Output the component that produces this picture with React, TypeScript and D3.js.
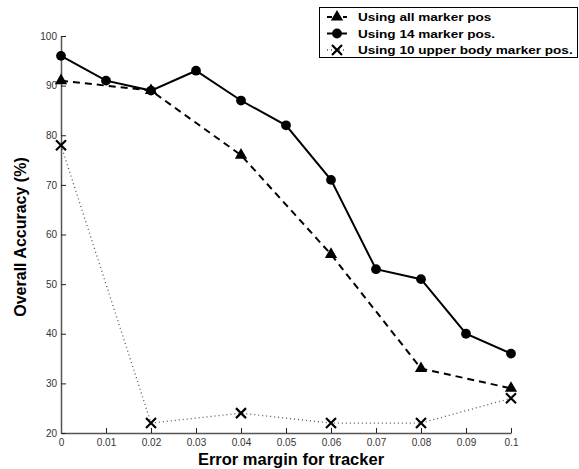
import React, { useEffect, useRef } from "react";
import * as d3 from "d3";

const xTicks = [0, 0.01, 0.02, 0.03, 0.04, 0.05, 0.06, 0.07, 0.08, 0.09, 0.1];
const yTicks = [20, 30, 40, 50, 60, 70, 80, 90, 100];

const allX = [0, 0.02, 0.04, 0.06, 0.08, 0.1];
const allY = [91, 89, 76, 56, 33, 29];

const fourteenX = [0, 0.01, 0.02, 0.03, 0.04, 0.05, 0.06, 0.07, 0.08, 0.09, 0.1];
const fourteenY = [96, 91, 89, 93, 87, 82, 71, 53, 51, 40, 36];

const upperX = [0, 0.02, 0.04, 0.06, 0.08, 0.1];
const upperY = [78, 22, 24, 22, 22, 27];

const seriesNames = [
  "Using all marker pos",
  "Using 14 marker pos.",
  "Using 10 upper body marker pos.",
];

const W = 579;
const H = 469;

function App() {
  const ref = useRef<SVGSVGElement>(null);

  useEffect(() => {
    const svg = d3.select(ref.current);
    svg.selectAll("*").remove();
    const font = "'Liberation Sans', Arial, sans-serif";

    const x = d3.scaleLinear().domain([0, 0.1]).range([61, 511]);
    const y = d3.scaleLinear().domain([20, 100]).range([433, 36]);

    // axes, ticks inward
    const xAxis = d3
      .axisBottom(x)
      .tickValues(xTicks)
      .tickSize(-5)
      .tickSizeOuter(0)
      .tickPadding(4)
      .tickFormat((d) => String(+d));
    const yAxis = d3
      .axisLeft(y)
      .tickValues(yTicks)
      .tickSize(-5)
      .tickSizeOuter(0)
      .tickPadding(4);

    const gx = svg.append("g").attr("transform", `translate(0,${y(20)})`).call(xAxis);
    const gy = svg.append("g").attr("transform", `translate(${x(0)},0)`).call(yAxis);
    [gx, gy].forEach((g) => {
      g.select(".domain").attr("stroke", "#555").attr("stroke-width", 1.5);
      g.selectAll(".tick line").attr("stroke", "#222");
      g.selectAll(".tick text")
        .attr("fill", "#333")
        .style("font-family", font)
        .style("font-size", "10px");
    });
    gx.selectAll(".tick text").attr("dy", "0.9em");

    const line = (xs: number[], ys: number[]) =>
      d3
        .line<number>()
        .x((_, i) => x(xs[i]))
        .y((d) => y(d))(ys);

    // dotted upper body series
    svg
      .append("path")
      .attr("d", line(upperX, upperY))
      .attr("fill", "none")
      .attr("stroke", "#555")
      .attr("stroke-width", 1.3)
      .attr("stroke-dasharray", "1,3");

    // dashed all markers
    svg
      .append("path")
      .attr("d", line(allX, allY))
      .attr("fill", "none")
      .attr("stroke", "#000")
      .attr("stroke-width", 2)
      .attr("stroke-dasharray", "7,5");

    // solid 14 markers
    svg
      .append("path")
      .attr("d", line(fourteenX, fourteenY))
      .attr("fill", "none")
      .attr("stroke", "#000")
      .attr("stroke-width", 2);

    const tri = d3.symbol().type(d3.symbolTriangle).size(65);
    const circ = d3.symbol().type(d3.symbolCircle).size(75);

    svg
      .selectAll(".tri")
      .data(allY)
      .enter()
      .append("path")
      .attr("d", tri() as string)
      .attr("transform", (d, i) => `translate(${x(allX[i])},${y(d)})`)
      .attr("fill", "#000");

    svg
      .selectAll(".circ")
      .data(fourteenY)
      .enter()
      .append("path")
      .attr("d", circ() as string)
      .attr("transform", (d, i) => `translate(${x(fourteenX[i])},${y(d)})`)
      .attr("fill", "#000");

    const cross = (g: any, cx: number, cy: number) => {
      const s = 5;
      g.append("path")
        .attr("d", `M${cx - s},${cy - s}L${cx + s},${cy + s}M${cx - s},${cy + s}L${cx + s},${cy - s}`)
        .attr("stroke", "#000")
        .attr("stroke-width", 2.2);
    };
    upperY.forEach((d, i) => cross(svg, x(upperX[i]), y(d)));

    // axis labels
    svg
      .append("text")
      .attr("x", 291)
      .attr("y", 465)
      .attr("text-anchor", "middle")
      .style("font-family", font)
      .style("font-size", "16.5px")
      .style("font-weight", "bold")
      .text("Error margin for tracker");

    svg
      .append("text")
      .attr("transform", `translate(26,237) rotate(-90)`)
      .attr("text-anchor", "middle")
      .style("font-family", font)
      .style("font-size", "16px")
      .style("font-weight", "bold")
      .text("Overall Accuracy (%)");

    // legend
    const lg = svg.append("g");
    lg.append("rect")
      .attr("x", 319.5)
      .attr("y", 7.5)
      .attr("width", 258)
      .attr("height", 50)
      .attr("fill", "#fff")
      .attr("stroke", "#000")
      .attr("stroke-width", 1);

    const rowsY = [17, 33.5, 50];
    const styles = [
      { dash: "5,3", color: "#000", w: 2 },
      { dash: null, color: "#000", w: 2 },
      { dash: "1,3", color: "#555", w: 1.3 },
    ];
    rowsY.forEach((ry, i) => {
      const st = styles[i];
      const ln = lg
        .append("line")
        .attr("x1", 327)
        .attr("x2", 347)
        .attr("y1", ry)
        .attr("y2", ry)
        .attr("stroke", st.color)
        .attr("stroke-width", st.w);
      if (st.dash) ln.attr("stroke-dasharray", st.dash);
      if (i === 0)
        lg.append("path").attr("d", tri() as string).attr("transform", `translate(337,${ry})`);
      if (i === 1)
        lg.append("path").attr("d", circ() as string).attr("transform", `translate(337,${ry})`);
      if (i === 2) cross(lg, 337, ry);
      lg.append("text")
        .attr("transform", `translate(358,${ry}) scale(1.18,1)`)
        .attr("dy", "0.36em")
        .style("font-family", font)
        .style("font-size", "11.5px")
        .style("font-weight", "bold")
        .text(seriesNames[i]);
    });
  }, []);

  return (
    <svg
      ref={ref}
      width={W}
      height={H}
      style={{ position: "absolute", left: 0, top: 0, background: "#fff" }}
    />
  );
}

export default App;
